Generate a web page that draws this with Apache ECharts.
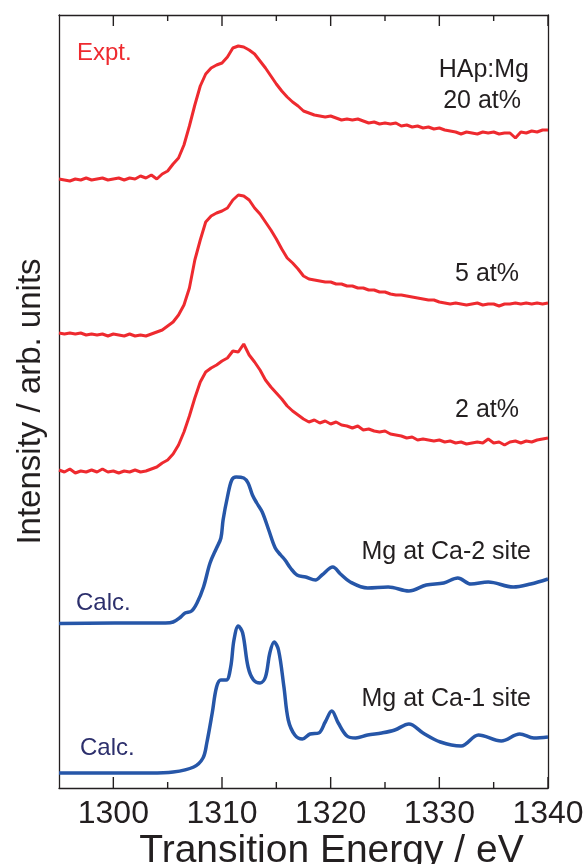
<!DOCTYPE html>
<html>
<head>
<meta charset="utf-8">
<title>Mg K-edge XANES of Mg-doped hydroxyapatite</title>
<script src="https://cdn.jsdelivr.net/npm/echarts@6/dist/echarts.min.js"></script>
<style>
  html, body { margin: 0; padding: 0; background: #ffffff; }
  #chart { width: 585px; height: 864px; }
</style>
</head>
<body>
<div id="chart"></div>
<script>
// Energy grid of the measured spectra (eV), 0.5 eV steps from 1295 to 1340
const exptEnergy = [];
for (let i = 0; i <= 90; i++) exptEnergy.push(1295 + i * 0.5);

// Measured spectra, stacked with a vertical offset (arb. units)
const expt20 = [
  6.09, 6.08, 6.07, 6.09, 6.08, 6.10, 6.08, 6.09, 6.10, 6.08,
  6.09, 6.10, 6.08, 6.10, 6.09, 6.12, 6.10, 6.13, 6.09, 6.14,
  6.17, 6.24, 6.30, 6.43, 6.62, 6.83, 7.02, 7.14, 7.20, 7.23,
  7.25, 7.31, 7.40, 7.42, 7.41, 7.38, 7.34, 7.27, 7.20, 7.12,
  7.04, 6.97, 6.91, 6.86, 6.82, 6.77, 6.75, 6.73, 6.72, 6.71,
  6.72, 6.70, 6.68, 6.69, 6.68, 6.69, 6.67, 6.65, 6.66, 6.64,
  6.65, 6.64, 6.65, 6.62, 6.63, 6.61, 6.62, 6.60, 6.61, 6.59,
  6.60, 6.58, 6.57, 6.56, 6.54, 6.56, 6.55, 6.54, 6.56, 6.55,
  6.56, 6.54, 6.55, 6.55, 6.50, 6.56, 6.55, 6.57, 6.56, 6.58,
  6.58
];
const expt5 = [
  4.55, 4.54, 4.55, 4.54, 4.55, 4.53, 4.54, 4.53, 4.54, 4.52,
  4.54, 4.53, 4.52, 4.54, 4.52, 4.53, 4.52, 4.54, 4.56, 4.58,
  4.62, 4.66, 4.73, 4.83, 5.00, 5.28, 5.48, 5.66, 5.72, 5.75,
  5.77, 5.80, 5.88, 5.93, 5.92, 5.88, 5.80, 5.74, 5.66, 5.58,
  5.49, 5.39, 5.30, 5.25, 5.19, 5.12, 5.09, 5.08, 5.07, 5.06,
  5.06, 5.04, 5.04, 5.02, 5.02, 5.00, 5.00, 4.98, 4.98, 4.96,
  4.96, 4.94, 4.93, 4.93, 4.92, 4.91, 4.90, 4.89, 4.88, 4.88,
  4.86, 4.85, 4.84, 4.85, 4.84, 4.83, 4.84, 4.85, 4.83, 4.84,
  4.84, 4.82, 4.84, 4.84, 4.85, 4.84, 4.85, 4.84, 4.85, 4.84,
  4.85
];
const expt2 = [
  3.18, 3.16, 3.19, 3.15, 3.17, 3.16, 3.18, 3.16, 3.19, 3.16,
  3.17, 3.15, 3.17, 3.16, 3.18, 3.16, 3.17, 3.19, 3.21, 3.25,
  3.28, 3.34, 3.43, 3.56, 3.72, 3.90, 4.06, 4.16, 4.20, 4.23,
  4.27, 4.30, 4.37, 4.36, 4.44, 4.33, 4.26, 4.18, 4.08, 4.01,
  3.95, 3.89, 3.82, 3.77, 3.73, 3.69, 3.66, 3.68, 3.65, 3.67,
  3.64, 3.66, 3.63, 3.62, 3.60, 3.62, 3.58, 3.59, 3.57, 3.56,
  3.57, 3.54, 3.53, 3.52, 3.50, 3.51, 3.48, 3.49, 3.48, 3.47,
  3.48, 3.46, 3.47, 3.45, 3.46, 3.44, 3.45, 3.46, 3.45, 3.49,
  3.45, 3.46, 3.43, 3.46, 3.47, 3.45, 3.47, 3.46, 3.48, 3.49,
  3.50
];

// Calculated spectra: energies (eV) and stacked intensities (arb. units)
const calcCa2Energy = [
  1295, 1303.4, 1304.8, 1305.5, 1306.2, 1306.6, 1307.2, 1307.7, 1308.3, 1308.9,
  1309.5, 1309.9, 1310.1, 1310.5, 1310.9, 1311.3, 1312.0, 1312.4, 1312.8, 1313.2,
  1313.7, 1314.3, 1314.9, 1315.4, 1315.8, 1316.3, 1316.9, 1317.7, 1318.6, 1319.2,
  1320.2, 1320.9, 1321.8, 1323.4, 1325.3, 1327.2, 1328.8, 1330.4, 1331.7, 1332.9,
  1334.5, 1336.8, 1338.4, 1340
];
const calcCa2 = [
  1.645, 1.65, 1.65, 1.66, 1.71, 1.75, 1.77, 1.85, 2.01, 2.25,
  2.40, 2.50, 2.68, 2.91, 3.08, 3.11, 3.10, 3.05, 2.93, 2.85,
  2.76, 2.58, 2.40, 2.33, 2.28, 2.20, 2.13, 2.11, 2.08, 2.13,
  2.21, 2.14, 2.06, 2.00, 2.01, 1.97, 2.03, 2.05, 2.10, 2.04,
  2.06, 2.01, 2.04, 2.09
];
const calcCa1Energy = [
  1295, 1303.4, 1305.5, 1307.4, 1308.25, 1308.6, 1309.1, 1309.5, 1309.9, 1310.4,
  1310.8, 1311.1, 1311.5, 1311.9, 1312.4, 1312.9, 1313.5, 1314.0, 1314.4, 1314.8,
  1315.2, 1315.7, 1316.1, 1316.7, 1317.4, 1318.1, 1318.9, 1319.5, 1320.1, 1320.7,
  1321.5, 1322.3, 1323.4, 1324.7, 1325.9, 1327.2, 1328.5, 1330.1, 1332.0, 1333.6,
  1335.7, 1337.4, 1338.7, 1340
];
const calcCa1 = [
  0.15, 0.15, 0.16, 0.21, 0.30, 0.45, 0.75, 1.01, 1.08, 1.08,
  1.21, 1.48, 1.62, 1.55, 1.21, 1.08, 1.05, 1.11, 1.35, 1.46,
  1.38, 1.01, 0.68, 0.53, 0.49, 0.54, 0.55, 0.66, 0.77, 0.65,
  0.52, 0.50, 0.53, 0.55, 0.58, 0.64, 0.55, 0.46, 0.42, 0.53,
  0.47, 0.54, 0.50, 0.51
];

// Axis settings
const xMin = 1295, xMax = 1340, xLabelStep = 5;
const xTickLabels = ['1300', '1310', '1320', '1330', '1340'];
const xMajorTicks = [1300, 1310, 1320, 1330, 1340];
const xMinorTicks = [1305, 1315, 1325, 1335];
const yMin = 0, yMax = 7.73;

const RED = '#ee2a2f';
const BLUE = '#2656a8';
const NAVY = '#2c2f6c';
const INK = '#231f20';
const FONT = '"Liberation Sans", Arial, Helvetica, sans-serif';
// Inward tick lengths, in intensity units of the y scale (about 11 px and 6 px)
const MAJOR_TICK_Y = 0.11, MINOR_TICK_Y = 0.06;

const pair = (xs, ys) => xs.map((x, i) => [x, ys[i]]);

const exptSeries = (name, values) => ({
  name, type: 'line', data: pair(exptEnergy, values),
  symbol: 'none', smooth: false,
  lineStyle: { color: RED, width: 3 }, z: 3
});
const calcSeries = (name, xs, values) => ({
  name, type: 'line', data: pair(xs, values),
  symbol: 'none', smooth: 0.35,
  lineStyle: { color: BLUE, width: 3.5 }, z: 4
});

// Each frame tick is a two-point segment drawn through the chart's own scales
const tickSegment = (x, y0, y1) => ({
  type: 'line', data: [[x, y0], [x, y1]], symbol: 'none', silent: true,
  clip: false, z: 6, lineStyle: { color: INK, width: 1.4 }
});
const tickSeries = []
  .concat(...xMajorTicks.map(v => [
    tickSegment(v, yMin, yMin + MAJOR_TICK_Y),
    tickSegment(v, yMax, yMax - MAJOR_TICK_Y)
  ]))
  .concat(...xMinorTicks.map(v => [
    tickSegment(v, yMin, yMin + MINOR_TICK_Y),
    tickSegment(v, yMax, yMax - MINOR_TICK_Y)
  ]));

const frameLine = { show: true, onZero: false, lineStyle: { color: INK, width: 1.3 } };

const chart = echarts.init(document.getElementById('chart'), null, { renderer: 'canvas' });
chart.setOption({
  animation: false,
  backgroundColor: '#ffffff',
  grid: { left: 59, right: 37, top: 15, bottom: 76, containLabel: false, outerBoundsMode: 'none' },
  xAxis: [
    {
      type: 'value', position: 'bottom', min: xMin, max: xMax, interval: xLabelStep,
      axisLine: frameLine, axisTick: { show: false }, splitLine: { show: false },
      axisLabel: {
        show: true, margin: 10, color: INK, fontSize: 32, fontFamily: FONT,
        showMinLabel: false, showMaxLabel: true, hideOverlap: false,
        formatter: v => (xTickLabels.includes(String(v)) ? String(v) : '')
      },
      name: 'Transition Energy / eV', nameLocation: 'middle', nameGap: 44,
      nameMoveOverlap: false,
      nameTextStyle: { color: INK, fontSize: 39, fontFamily: FONT, padding: [0, 0, 0, 56] }
    },
    {
      type: 'value', position: 'top', min: xMin, max: xMax, interval: xLabelStep,
      axisLine: frameLine, axisTick: { show: false }, splitLine: { show: false },
      axisLabel: { show: false }
    }
  ],
  yAxis: [
    {
      type: 'value', position: 'left', min: yMin, max: yMax,
      axisLine: frameLine, axisTick: { show: false }, axisLabel: { show: false },
      splitLine: { show: false },
      name: 'Intensity / arb. units', nameLocation: 'middle', nameGap: 12, nameRotate: 90,
      nameMoveOverlap: false,
      nameTextStyle: { color: INK, fontSize: 33, fontFamily: FONT }
    },
    {
      type: 'value', position: 'right', min: yMin, max: yMax,
      axisLine: frameLine, axisTick: { show: false }, axisLabel: { show: false },
      splitLine: { show: false }
    }
  ],
  series: [
    exptSeries('HAp:Mg 20 at%', expt20),
    exptSeries('HAp:Mg 5 at%', expt5),
    exptSeries('HAp:Mg 2 at%', expt2),
    calcSeries('Mg at Ca-2 site', calcCa2Energy, calcCa2),
    calcSeries('Mg at Ca-1 site', calcCa1Energy, calcCa1)
  ].concat(tickSeries),
  graphic: [
    { type: 'text', left: 77, top: 41, style: { text: 'Expt.', fill: RED, font: '24px ' + FONT } },
    { type: 'text', right: 56, top: 58, style: { text: 'HAp:Mg', fill: INK, font: '25px ' + FONT } },
    { type: 'text', right: 64, top: 89, style: { text: '20 at%', fill: INK, font: '25px ' + FONT } },
    { type: 'text', right: 66, top: 262, style: { text: '5 at%', fill: INK, font: '25px ' + FONT } },
    { type: 'text', right: 66, top: 398, style: { text: '2 at%', fill: INK, font: '25px ' + FONT } },
    { type: 'text', right: 54, top: 540, style: { text: 'Mg at Ca-2 site', fill: INK, font: '25px ' + FONT } },
    { type: 'text', left: 76, top: 591, style: { text: 'Calc.', fill: NAVY, font: '24px ' + FONT } },
    { type: 'text', right: 54, top: 687, style: { text: 'Mg at Ca-1 site', fill: INK, font: '25px ' + FONT } },
    { type: 'text', left: 80, top: 736, style: { text: 'Calc.', fill: NAVY, font: '24px ' + FONT } }
  ]
});
</script>
</body>
</html>
